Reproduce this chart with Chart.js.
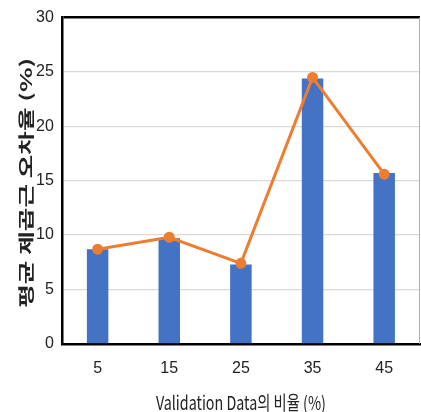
<!DOCTYPE html>
<html lang="ko">
<head>
<meta charset="UTF-8">
<title>Validation Data 비율별 오차율</title>
<script src="https://cdn.jsdelivr.net/npm/chart.js"></script>
<style>
    html, body {
        margin: 0;
        padding: 0;
        overflow: hidden;
        background: #ffffff;
    }
    #wrap {
        width: 421px;
        height: 412px;
    }
</style>
</head>
<body>
<div id="wrap"><canvas id="chart"></canvas></div>
<script>
// data
const categories = ['5', '15', '25', '35', '45'];
const barValues = [8.7, 9.7, 7.3, 24.4, 15.7];
const lineValues = [8.7, 9.8, 7.4, 24.5, 15.6];
const yTicks = [0, 5, 10, 15, 20, 25, 30];
const xTitle = 'Validation Data의 비율 (%)';
const yTitle = '평균 제곱근 오차율 (%)';

const tickFont = { family: "'Liberation Sans', Arial, sans-serif", size: 16 };
const korFont = "'Noto Sans CJK KR', 'Liberation Sans', sans-serif";

// the source picture is squeezed sideways, so the axis titles are drawn
// with a stretch to fit the same length as in the reference
function stretchedText(ctx, text, font, cx, cy, length, angle) {
    ctx.save();
    ctx.font = font;
    const w = ctx.measureText(text).width;
    ctx.translate(cx, cy);
    ctx.rotate(angle);
    ctx.scale(length / w, 1);
    ctx.fillStyle = '#222222';
    ctx.textAlign = 'center';
    ctx.textBaseline = 'middle';
    ctx.fillText(text, 0, 0);
    ctx.restore();
}

const axisTitles = {
    id: 'axisTitles',
    afterDraw(chart) {
        const { ctx, chartArea } = chart;
        const midX = (chartArea.left + chartArea.right) / 2;
        const midY = (chartArea.top + chartArea.bottom) / 2;
        // thin grey frame line on the right side of the plot
        ctx.save();
        ctx.strokeStyle = '#b0b0b0';
        ctx.lineWidth = 1;
        ctx.beginPath();
        ctx.moveTo(chartArea.right - 0.5, chartArea.top);
        ctx.lineTo(chartArea.right - 0.5, chartArea.bottom);
        ctx.stroke();
        ctx.restore();
        stretchedText(ctx, xTitle, '19px ' + korFont, midX, 403, 170, 0);
        stretchedText(ctx, yTitle, 'bold 16px ' + korFont, 26, midY + 2, 250, -Math.PI / 2);
    }
};

new Chart(document.getElementById('chart'), {
    data: {
        labels: categories,
        datasets: [{
            type: 'line',
            data: lineValues,
            borderColor: '#ED7D31',
            backgroundColor: '#ED7D31',
            borderWidth: 3,
            pointRadius: 4,
            pointHoverRadius: 4,
            tension: 0,
            order: 0
        }, {
            type: 'bar',
            data: barValues,
            backgroundColor: '#4472C4',
            barPercentage: 0.6,
            categoryPercentage: 0.5,
            order: 1
        }]
    },
    options: {
        responsive: true,
        maintainAspectRatio: false,
        animation: false,
        layout: { autoPadding: false, padding: { top: 17, right: 1, left: 28, bottom: 27 } },
        plugins: {
            legend: { display: false },
            tooltip: { enabled: false }
        },
        scales: {
            x: {
                grid: { display: false },
                border: { color: '#000000', width: 2.5 },
                ticks: { color: '#222222', font: tickFont, padding: 7 }
            },
            y: {
                min: 0,
                max: 30,
                afterBuildTicks: axis => { axis.ticks = yTicks.map(v => ({ value: v })); },
                grid: {
                    color: ctx => ctx.tick && ctx.tick.value === 30 ? '#000000' : '#d9d9d9',
                    lineWidth: ctx => ctx.tick && ctx.tick.value === 30 ? 2.5 : 1.2,
                    drawTicks: false
                },
                border: { color: '#000000', width: 2.5 },
                ticks: { color: '#222222', font: tickFont, padding: 8 }
            }
        }
    },
    plugins: [axisTitles]
});
</script>
</body>
</html>
